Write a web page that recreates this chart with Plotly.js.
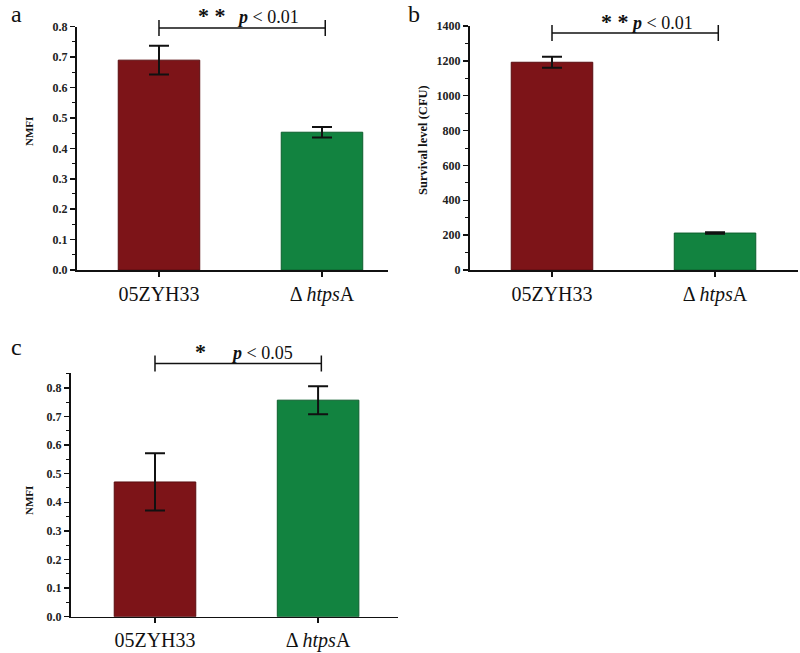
<!DOCTYPE html>
<html>
<head>
<meta charset="utf-8">
<script src="https://cdn.plot.ly/plotly-3.0.1.min.js"></script>
<style>
  body { margin: 0; background: #fff; }
  #chart { width: 800px; height: 653px; }
</style>
</head>
<body>
<div id="chart"></div>
<script>
// strains on x
var strains = ["05ZYH33", "ΔhtpsA"];
var strainLabels = ["05ZYH33", "Δ <i>htps</i>A"];

// panel a - NMFI
var nmfiA = [0.69, 0.453];
var errA = [0.047, 0.017];

// panel b - survival level (CFU)
var cfuB = [1192, 212];
var errB = [32, 4];

// panel c - NMFI
var nmfiC = [0.471, 0.757];
var errC = [0.1, 0.049];

var barColors = ["#7d1418", "#128340"];
var lineColors = ["#5a0d10", "#0c5f2d"];

var serif = "Liberation Serif";

function barTrace(vals, errs, xa, ya) {
  return {
    type: "bar",
    x: strains,
    y: vals,
    width: 0.5,
    xaxis: xa,
    yaxis: ya,
    marker: { color: barColors, line: { color: lineColors, width: 1 } },
    error_y: { type: "data", array: errs, visible: true, color: "#111", thickness: 2, width: 10 },
    showlegend: false,
    hoverinfo: "y"
  };
}

var data = [
  barTrace(nmfiA, errA, "x", "y"),
  barTrace(cfuB, errB, "x2", "y2"),
  barTrace(nmfiC, errC, "x3", "y3")
];

function xAxis(dom, rng, anchor) {
  return {
    domain: dom,
    range: rng,
    anchor: anchor,
    type: "category",
    tickvals: strains,
    ticktext: strainLabels,
    ticks: "outside",
    ticklen: 5,
    tickwidth: 1.5,
    tickcolor: "#111",
    showline: true,
    linecolor: "#111",
    linewidth: 1.5,
    showgrid: false,
    zeroline: false,
    tickfont: { family: serif, size: 20, color: "#111" },
    fixedrange: true
  };
}

function yAxis(dom, rng, dtick, fmt, anchor) {
  return {
    domain: dom,
    range: rng,
    anchor: anchor,
    dtick: dtick,
    tick0: 0,
    tickformat: fmt,
    ticks: "outside",
    ticklen: 5,
    tickwidth: 1.5,
    tickcolor: "#111",
    minor: { ticks: "outside", dtick: dtick / 2, ticklen: 3, tickwidth: 1, tickcolor: "#111" },
    showline: true,
    linecolor: "#111",
    linewidth: 2,
    showgrid: false,
    zeroline: false,
    tickfont: { family: serif, size: 12, color: "#222", weight: "bold" },
    fixedrange: true
  };
}

var W = 800, H = 653;
// domains from pixel boxes
var xdA = [77 / W, 388 / W], ydA = [1 - 270 / H, 1 - 26.7 / H];
var xdB = [470 / W, 798 / W], ydB = [1 - 270 / H, 1 - 26 / H];
var xdC = [71 / W, 398 / W], ydC = [1 - 616.7 / H, 1 - 372.7 / H];
var xrA = [-0.503, 1.405], xrB = [-0.503, 1.509], xrC = [-0.515, 1.49];

// category index -> paper x
function px(dom, rng, i) {
  return dom[0] + (i - rng[0]) / (rng[1] - rng[0]) * (dom[1] - dom[0]);
}

function bracket(dom, rng, yMid, half) {
  var x0 = px(dom, rng, 0), x1 = px(dom, rng, 1.02);
  var y = 1 - yMid / H, ht = half / H;
  var ln = { color: "#111", width: 1.5 };
  return [
    { type: "line", xref: "paper", yref: "paper", x0: x0, x1: x1, y0: y, y1: y, line: ln },
    { type: "line", xref: "paper", yref: "paper", x0: x0, x1: x0, y0: y - ht, y1: y + ht, line: ln },
    { type: "line", xref: "paper", yref: "paper", x0: x1, x1: x1, y0: y - ht, y1: y + ht, line: ln }
  ];
}

var shapes = [].concat(
  bracket(xdA, xrA, 28, 8),
  bracket(xdB, xrB, 33, 8),
  bracket(xdC, xrC, 363.5, 8)
);

function note(text, x, y, size, angle, extra) {
  var a = {
    text: text, xref: "paper", yref: "paper",
    x: x / W, y: 1 - y / H, xanchor: "center", yanchor: "middle",
    showarrow: false, textangle: angle || 0,
    font: { family: serif, size: size, color: "#111" }
  };
  if (extra) Object.assign(a.font, extra);
  return a;
}

var star = function (s) { return "<b><span style='font-size:22px'>" + s + "</span></b>"; };

var annotations = [
  note("a", 16, 14, 24),
  note("b", 414, 14, 24),
  note("c", 16, 347, 24),
  note(star("* *") + "   <b><i>p</i></b> &lt; 0.01", 248, 15, 18),
  note(star("* *") + " <b><i>p</i></b> &lt; 0.01", 647, 21, 18),
  note(star("*") + "      <b><i>p</i></b> &lt; 0.05", 244, 351, 18),
  note("NMFI", 29, 131, 11, -90, { weight: "bold" }),
  note("Survival level (CFU)", 423, 140, 12.5, -90, { weight: "bold" }),
  note("NMFI", 29, 500, 11, -90, { weight: "bold" })
];

var layout = {
  width: W,
  height: H,
  margin: { l: 0, r: 0, t: 0, b: 0 },
  paper_bgcolor: "#fff",
  plot_bgcolor: "#fff",
  xaxis: xAxis(xdA, xrA, "y"),
  yaxis: yAxis(ydA, [0, 0.8], 0.1, ".1f", "x"),
  xaxis2: xAxis(xdB, xrB, "y2"),
  yaxis2: yAxis(ydB, [0, 1400], 200, "d", "x2"),
  xaxis3: xAxis(xdC, xrC, "y3"),
  yaxis3: yAxis(ydC, [0, 0.853], 0.1, ".1f", "x3"),
  shapes: shapes,
  annotations: annotations
};

Plotly.newPlot("chart", data, layout, { displayModeBar: false, staticPlot: true });
</script>
</body>
</html>
